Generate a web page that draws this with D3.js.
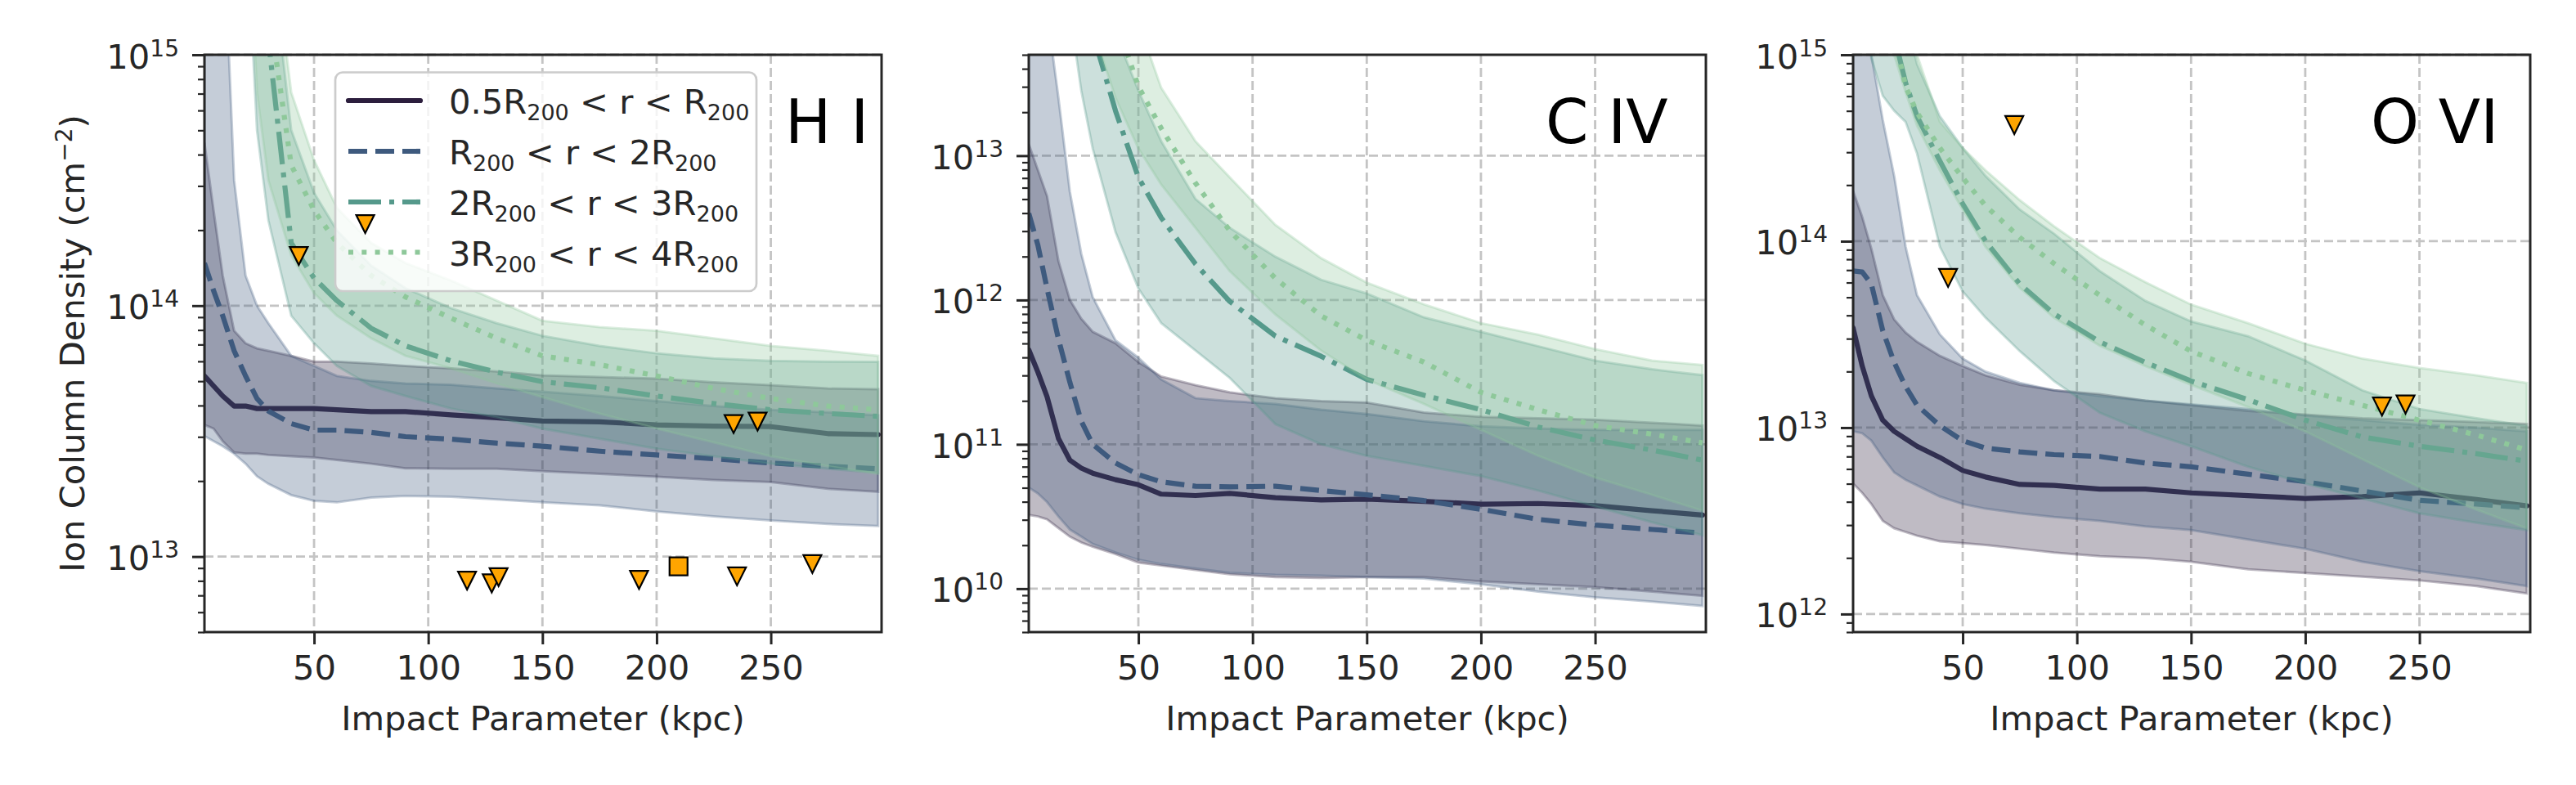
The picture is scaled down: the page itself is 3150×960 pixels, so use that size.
<!DOCTYPE html>
<html>
<head>
<meta charset="utf-8">
<script src="https://cdn.jsdelivr.net/npm/d3@7"></script>
<style>
  body { margin: 0; background: #fff; }
  svg { font-family: "DejaVu Sans", sans-serif; }
</style>
</head>
<body>
<svg id="fig" width="3150" height="960"></svg>
<script>
// impact parameter grid (kpc), shared by every profile
const X = [2, 6, 10, 15, 20, 25, 30, 40, 50, 60, 75, 90, 110, 130, 150, 175, 200, 225, 250, 275, 297];

// log10 N (cm^-2). r1 = 0.5-1 R200, r2 = 1-2, r3 = 2-3, r4 = 3-4
const hi_r1_med = [13.72,13.68,13.64,13.60,13.60,13.59,13.59,13.59,13.59,13.585,13.578,13.578,13.565,13.553,13.54,13.537,13.525,13.52,13.518,13.49,13.486];
const hi_r1_lo  = [13.525,13.51,13.46,13.415,13.41,13.41,13.405,13.40,13.395,13.385,13.37,13.352,13.35,13.35,13.34,13.33,13.318,13.305,13.297,13.27,13.258];
const hi_r1_hi  = [14.65,14.38,14.12,13.9,13.85,13.83,13.82,13.80,13.777,13.777,13.77,13.76,13.75,13.738,13.722,13.716,13.709,13.695,13.683,13.67,13.667];
const hi_r2_med = [14.17,14.06,13.96,13.82,13.72,13.63,13.58,13.53,13.504,13.504,13.495,13.478,13.468,13.452,13.44,13.42,13.405,13.39,13.373,13.36,13.35];
const hi_r2_lo  = [13.48,13.46,13.44,13.41,13.37,13.32,13.29,13.245,13.222,13.216,13.235,13.242,13.238,13.228,13.216,13.204,13.18,13.16,13.144,13.13,13.122];
const hi_r2_hi  = [16,16,15.6,14.5,14.12,14.0,13.93,13.80,13.76,13.72,13.70,13.69,13.685,13.67,13.657,13.64,13.62,13.60,13.585,13.575,13.563];
const hi_r3_med = [16.5,16.5,16.5,16.5,16.3,15.7,15.06,14.25,14.11,14.02,13.91,13.84,13.78,13.735,13.697,13.673,13.64,13.61,13.585,13.57,13.559];
const hi_r3_lo  = [16.5,16.5,16.5,16.2,15.6,14.7,14.34,13.96,13.85,13.76,13.68,13.64,13.59,13.555,13.51,13.47,13.43,13.40,13.37,13.35,13.334];
const hi_r3_hi  = [16.5,16.5,16.5,16.5,16.5,16.2,15.5,14.7,14.45,14.3,14.16,14.07,13.99,13.93,13.88,13.84,13.81,13.79,13.78,13.777,13.776];
const hi_r4_med = [16.5,16.5,16.5,16.5,16.5,16.2,15.2,14.56,14.38,14.25,14.12,14.035,13.95,13.87,13.80,13.765,13.72,13.67,13.63,13.60,13.585];
const hi_r4_lo  = [16.5,16.5,16.5,16.5,15.8,14.85,14.5,14.2,14.05,13.96,13.87,13.80,13.75,13.69,13.635,13.57,13.51,13.455,13.40,13.36,13.33];
const hi_r4_hi  = [16.5,16.5,16.5,16.5,16.5,16.5,15.6,14.85,14.58,14.39,14.25,14.17,14.10,14.02,13.94,13.915,13.90,13.87,13.84,13.82,13.80];

const civ_r1_med = [11.655,11.50,11.33,11.04,10.89,10.835,10.80,10.755,10.72,10.655,10.645,10.66,10.63,10.615,10.62,10.605,10.585,10.59,10.575,10.54,10.51];
const civ_r1_lo  = [10.51,10.50,10.48,10.42,10.36,10.32,10.29,10.24,10.18,10.16,10.13,10.10,10.08,10.075,10.08,10.08,10.05,10.03,10.01,9.98,9.95];
const civ_r1_hi  = [13.08,12.9,12.72,12.27,12.0,11.87,11.78,11.70,11.57,11.47,11.41,11.36,11.32,11.30,11.29,11.22,11.19,11.18,11.17,11.15,11.13];
const civ_r2_med = [12.6,12.38,12.08,11.73,11.43,11.16,11.0,10.87,10.79,10.74,10.71,10.705,10.71,10.68,10.65,10.61,10.55,10.48,10.44,10.41,10.385];
const civ_r2_lo  = [10.70,10.66,10.60,10.50,10.41,10.36,10.31,10.25,10.20,10.17,10.14,10.11,10.095,10.09,10.08,10.07,10.03,9.98,9.94,9.91,9.88];
const civ_r2_hi  = [14.5,14.4,14.0,13.4,12.75,12.32,12.02,11.72,11.6,11.45,11.32,11.3,11.28,11.24,11.21,11.16,11.125,11.11,11.10,11.10,11.10];
const civ_r3_med = [15,15,15,15,15,14.5,13.85,13.31,12.85,12.57,12.25,11.99,11.75,11.61,11.45,11.34,11.24,11.12,11.03,10.96,10.89];
const civ_r3_lo  = [15,15,15,15,14.0,13.45,13.05,12.47,12.08,11.84,11.65,11.46,11.14,11.0,10.92,10.85,10.78,10.68,10.57,10.46,10.37];
const civ_r3_hi  = [15,15,15,15,15,15,15,13.85,13.45,13.1,12.7,12.5,12.3,12.14,12.045,11.88,11.78,11.68,11.58,11.52,11.48];
const civ_r4_med = [15,15,15,15,15,15,15,13.95,13.48,13.19,12.81,12.48,12.15,11.89,11.72,11.57,11.36,11.24,11.13,11.07,11.01];
const civ_r4_lo  = [15,15,15,15,15,15,13.88,13.4,13.05,12.8,12.5,12.2,11.9,11.65,11.45,11.28,11.1,10.92,10.77,10.65,10.54];
const civ_r4_hi  = [15,15,15,15,15,15,15,15,13.92,13.47,13.1,12.85,12.52,12.29,12.12,11.97,11.84,11.76,11.66,11.58,11.55];

const ovi_r1_med = [13.535,13.33,13.17,13.04,12.98,12.94,12.90,12.84,12.77,12.735,12.695,12.69,12.67,12.67,12.65,12.635,12.62,12.63,12.65,12.615,12.58];
const ovi_r1_lo  = [12.70,12.65,12.59,12.50,12.46,12.44,12.42,12.39,12.38,12.37,12.35,12.33,12.31,12.30,12.28,12.24,12.22,12.20,12.18,12.15,12.11];
const ovi_r1_hi  = [14.27,14.13,13.96,13.71,13.58,13.51,13.46,13.385,13.33,13.28,13.23,13.20,13.18,13.145,13.12,13.09,13.07,13.05,13.04,13.03,13.02];
const ovi_r2_med = [13.84,13.835,13.77,13.52,13.35,13.22,13.12,13.01,12.93,12.89,12.87,12.855,12.845,12.81,12.79,12.75,12.71,12.66,12.61,12.59,12.57];
const ovi_r2_lo  = [12.98,12.97,12.93,12.84,12.76,12.72,12.69,12.63,12.59,12.565,12.54,12.52,12.50,12.47,12.45,12.40,12.35,12.28,12.23,12.19,12.15];
const ovi_r2_hi  = [15.5,15.4,15.0,14.65,14.35,13.97,13.71,13.5,13.37,13.30,13.24,13.20,13.17,13.145,13.125,13.10,13.065,13.04,13.015,13.0,12.98];
const ovi_r3_med = [16,16,16,16,15.1,14.85,14.67,14.43,14.2,14.0,13.77,13.61,13.46,13.35,13.25,13.15,13.04,12.95,12.90,12.86,12.82];
const ovi_r3_lo  = [16,15.5,14.98,14.78,14.7,14.64,14.47,13.97,13.73,13.59,13.41,13.25,13.08,12.98,12.9,12.79,12.70,12.62,12.54,12.49,12.45];
const ovi_r3_hi  = [16,16,16,16,16,15.2,14.95,14.67,14.5,14.35,14.17,14.04,13.84,13.68,13.57,13.49,13.36,13.2,13.1,13.05,13.01];
const ovi_r4_med = [16,16,16,16,15.1,14.83,14.69,14.50,14.34,14.19,14.02,13.88,13.71,13.55,13.41,13.29,13.2,13.12,13.04,12.96,12.88];
const ovi_r4_lo  = [16,16,15.6,15.2,15.0,14.8,14.62,14.38,14.17,13.97,13.75,13.59,13.44,13.33,13.23,13.11,12.98,12.83,12.68,12.56,12.46];
const ovi_r4_hi  = [16,16,16,16,16,15.4,15.0,14.64,14.5,14.38,14.22,14.08,13.91,13.78,13.66,13.56,13.45,13.37,13.32,13.28,13.24];

// observed sightlines (upper limits = triangles, detection = square)
const hi_lim_x   = [43.3, 72.4, 233.7, 244.2, 117, 127.8, 130.8, 192.3, 235.2, 268.2];
const hi_lim_N   = [14.198, 14.325, 13.528, 13.538, 12.904, 12.893, 12.918, 12.907, 12.921, 12.970];
const hi_det_x   = [209.6];
const hi_det_N   = [12.961];
const ovi_lim_x  = [72.6, 43.6, 233.6, 243.9];
const ovi_lim_N  = [14.623, 13.803, 13.113, 13.124];

const groupLabels = [
  ["0.5R", "200", " < r < R", "200"],
  ["R", "200", " < r < 2R", "200"],
  ["2R", "200", " < r < 3R", "200"],
  ["3R", "200", " < r < 4R", "200"]
];
const groupColors = ["#2c1e3d", "#3e5a7e", "#55998b", "#8ec89a"];
const groupDash = [null, "23,10", "40,10,6,10", "6,10.3"];

const xTicks = [50, 100, 150, 200, 250];

// panel table built from the arrays above
const panels = [
  { name: "H I", left: 250, yDomain: [5e12, 1e15], titleX: 960,
    groups: [[hi_r1_med, hi_r1_lo, hi_r1_hi], [hi_r2_med, hi_r2_lo, hi_r2_hi],
             [hi_r3_med, hi_r3_lo, hi_r3_hi], [hi_r4_med, hi_r4_lo, hi_r4_hi]],
    lim: [hi_lim_x, hi_lim_N], det: [hi_det_x, hi_det_N], legend: true, ylabel: true },
  { name: "C IV", left: 1258, yDomain: [5e9, 5e13], titleX: 1890,
    groups: [[civ_r1_med, civ_r1_lo, civ_r1_hi], [civ_r2_med, civ_r2_lo, civ_r2_hi],
             [civ_r3_med, civ_r3_lo, civ_r3_hi], [civ_r4_med, civ_r4_lo, civ_r4_hi]],
    lim: null, det: null },
  { name: "O VI", left: 2266, yDomain: [8e11, 1e15], titleX: 2899,
    groups: [[ovi_r1_med, ovi_r1_lo, ovi_r1_hi], [ovi_r2_med, ovi_r2_lo, ovi_r2_hi],
             [ovi_r3_med, ovi_r3_lo, ovi_r3_hi], [ovi_r4_med, ovi_r4_lo, ovi_r4_hi]],
    lim: [ovi_lim_x, ovi_lim_N], det: null }
];

const W = 828, TOP = 67, BOTTOM = 773;
const TXT = "#262626";
const svg = d3.select("#fig");

panels.forEach((p, i) => drawPanel(p, i));

function drawPanel(p, i) {
  const x = d3.scaleLinear().domain([2, 298.5]).range([p.left, p.left + W]);
  const y = d3.scaleLog().domain(p.yDomain).range([BOTTOM, TOP]);

  const lo = Math.log10(p.yDomain[0]), hi = Math.log10(p.yDomain[1]);
  const majors = d3.range(Math.ceil(lo - 1e-9), Math.floor(hi + 1e-9) + 1).map(k => Math.pow(10, k));
  const minors = [];
  for (let k = Math.floor(lo); k <= Math.ceil(hi); k++) {
    for (let m = 2; m <= 9; m++) {
      const v = m * Math.pow(10, k);
      if (v >= p.yDomain[0] * 0.999 && v <= p.yDomain[1] * 1.001) minors.push(v);
    }
  }

  svg.append("clipPath").attr("id", "clip" + i)
    .append("rect").attr("x", p.left).attr("y", TOP).attr("width", W).attr("height", BOTTOM - TOP);

  // grid
  const grid = svg.append("g").attr("stroke", "#c4c4c4").attr("stroke-width", 2.8)
    .attr("stroke-dasharray", "11,5");
  grid.selectAll(".gy").data(majors).join("line")
    .attr("x1", p.left).attr("x2", p.left + W).attr("y1", d => y(d)).attr("y2", d => y(d));
  grid.selectAll(".gx").data(xTicks).join("line")
    .attr("x1", d => x(d)).attr("x2", d => x(d)).attr("y1", TOP).attr("y2", BOTTOM);

  // bands and median lines, group by group
  const plot = svg.append("g").attr("clip-path", `url(#clip${i})`);
  const area = d3.area().x((d, j) => x(X[j])).y0(d => y(Math.pow(10, d[0]))).y1(d => y(Math.pow(10, d[1])));
  const line = d3.line().x((d, j) => x(X[j])).y(d => y(Math.pow(10, d)));

  p.groups.forEach(([med, low, high], gi) => {
    const band = low.map((v, j) => [v, high[j]]);
    plot.append("path").datum(band).attr("d", area)
      .attr("fill", groupColors[gi]).attr("fill-opacity", 0.3)
      .attr("stroke", groupColors[gi]).attr("stroke-opacity", 0.3).attr("stroke-width", 3);
    plot.append("path").datum(med).attr("d", line)
      .attr("fill", "none").attr("stroke", groupColors[gi]).attr("stroke-width", 6.2)
      .attr("stroke-dasharray", groupDash[gi])
      .attr("stroke-linecap", groupDash[gi] ? "butt" : "round")
      .attr("stroke-linejoin", "round");
  });

  // spines
  svg.append("rect").attr("x", p.left).attr("y", TOP).attr("width", W).attr("height", BOTTOM - TOP)
    .attr("fill", "none").attr("stroke", TXT).attr("stroke-width", 3);

  // x axis
  const xa = svg.append("g").attr("transform", `translate(0,${BOTTOM})`)
    .call(d3.axisBottom(x).tickValues(xTicks).tickSize(15).tickPadding(13));
  xa.select(".domain").remove();
  xa.selectAll("line").attr("stroke", TXT).attr("stroke-width", 3);
  xa.selectAll("text").attr("fill", TXT).attr("font-size", 41.7)
    .attr("font-family", "DejaVu Sans");

  // y axis major + minor ticks
  const ya = svg.append("g").attr("transform", `translate(${p.left},0)`)
    .call(d3.axisLeft(y).tickValues(majors).tickSize(15).tickFormat(""));
  ya.select(".domain").remove();
  ya.selectAll("line").attr("stroke", TXT).attr("stroke-width", 3);
  const ym = svg.append("g").attr("transform", `translate(${p.left},0)`)
    .call(d3.axisLeft(y).tickValues(minors).tickSize(8).tickFormat(""));
  ym.select(".domain").remove();
  ym.selectAll("line").attr("stroke", TXT).attr("stroke-width", 2.2);

  // y tick labels as 10^k
  majors.forEach(v => {
    const t = svg.append("text").attr("x", p.left - 31).attr("y", y(v) + 16.5)
      .attr("text-anchor", "end").attr("fill", TXT).attr("font-size", 41.7);
    t.append("tspan").text("10");
    t.append("tspan").attr("font-size", 28).attr("dy", -15).text(String(Math.round(Math.log10(v))));
  });

  // x label
  svg.append("text").attr("x", p.left + W / 2).attr("y", 893).attr("text-anchor", "middle")
    .attr("fill", TXT).attr("font-size", 41.7).text("Impact Parameter (kpc)");

  // ion name
  svg.append("text").attr("x", p.titleX).attr("y", 175).attr("fill", "#000")
    .attr("font-size", 75).text(p.name);

  if (p.ylabel) {
    const t = svg.append("text").attr("transform", "translate(103,420) rotate(-90)")
      .attr("text-anchor", "middle").attr("fill", TXT).attr("font-size", 41.7);
    t.append("tspan").text("Ion Column Density (cm");
    t.append("tspan").attr("font-size", 28).attr("dy", -15).text("\u22122");
    t.append("tspan").attr("dy", 15).text(")");
  }

  if (p.legend) drawLegend();

  // observations on top
  const tri = d3.symbol().type({ draw(ctx, size) {
    const s = Math.sqrt(size) / 2;
    ctx.moveTo(-s, -s); ctx.lineTo(s, -s); ctx.lineTo(0, s); ctx.closePath();
  } }).size(22 * 22);
  if (p.lim) {
    svg.append("g").selectAll("path").data(p.lim[0]).join("path")
      .attr("transform", (d, j) => `translate(${x(d)},${y(Math.pow(10, p.lim[1][j]))})`)
      .attr("d", tri).attr("fill", "#ffa500").attr("stroke", "#000").attr("stroke-width", 2.2)
      .attr("stroke-linejoin", "miter");
  }
  if (p.det) {
    svg.append("g").selectAll("rect").data(p.det[0]).join("rect")
      .attr("x", d => x(d) - 11).attr("y", (d, j) => y(Math.pow(10, p.det[1][j])) - 11)
      .attr("width", 22).attr("height", 22)
      .attr("fill", "#ffa500").attr("stroke", "#000").attr("stroke-width", 2.2);
  }
}

function drawLegend() {
  const lg = svg.append("g");
  lg.append("rect").attr("x", 410).attr("y", 88.5).attr("width", 515).attr("height", 267.5)
    .attr("rx", 9).attr("fill", "#fff").attr("fill-opacity", 0.8)
    .attr("stroke", "#cccccc").attr("stroke-width", 2.7);
  const rowY = [123, 185, 247, 308.5];
  groupLabels.forEach((lab, gi) => {
    lg.append("line").attr("x1", 426).attr("x2", 514).attr("y1", rowY[gi]).attr("y2", rowY[gi])
      .attr("stroke", groupColors[gi]).attr("stroke-width", 6.2)
      .attr("stroke-dasharray", groupDash[gi])
      .attr("stroke-linecap", groupDash[gi] ? "butt" : "round");
    const t = lg.append("text").attr("x", 549).attr("y", rowY[gi] + 16)
      .attr("fill", TXT).attr("font-size", 41.7).attr("xml:space", "preserve");
    t.append("tspan").text(lab[0]);
    t.append("tspan").attr("font-size", 27).attr("dy", 8).text(lab[1]);
    t.append("tspan").attr("dy", -8).text(lab[2]);
    t.append("tspan").attr("font-size", 27).attr("dy", 8).text(lab[3]);
  });
}
</script>
</body>
</html>
